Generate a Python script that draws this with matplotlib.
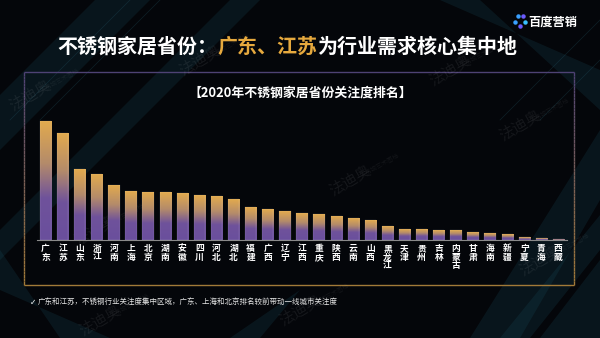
import numpy as np
import matplotlib
matplotlib.use("Agg")
import matplotlib.pyplot as plt
from matplotlib.colors import LinearSegmentedColormap, to_rgb
from matplotlib.collections import LineCollection
from matplotlib.patches import Polygon

plt.rcParams['font.family'] = ['Noto Sans CJK SC', 'DejaVu Sans']

# ---- data (relative attention index) ----
provinces = ["广东", "江苏", "山东", "浙江", "河南", "上海", "北京", "湖南", "安徽", "四川",
             "河北", "湖北", "福建", "广西", "辽宁", "江西", "重庆", "陕西", "云南", "山西",
             "黑龙江", "天津", "贵州", "吉林", "内蒙古", "甘肃", "海南", "新疆", "宁夏", "青海", "西藏"]
attention = [119, 107, 71, 66, 55, 49, 48, 48, 47, 45,
             44, 41, 33, 31, 29, 27, 26, 24, 22, 20,
             14, 11, 11, 10, 10, 8, 7, 6, 3, 2, 0.7]

title_white1 = "不锈钢家居省份："
title_gold = "广东、江苏"
title_white2 = "为行业需求核心集中地"
subtitle = "【2020年不锈钢家居省份关注度排名】"
note = "广东和江苏，不锈钢行业关注度集中区域，广东、上海和北京排名较前带动一线城市关注度"

W, H = 600, 338
fig = plt.figure(figsize=(W / 100, H / 100), dpi=100)
fig.patch.set_facecolor("#04060a")

# background layer in pixel coordinates
bg = fig.add_axes([0, 0, 1, 1])
bg.set_xlim(0, W)
bg.set_ylim(H, 0)
bg.axis("off")
bg.set_facecolor("#04060a")

# light streaks
streaks = [
    [(0, 95), (0, 150), (150, 0), (95, 0)],
    [(0, 230), (0, 260), (260, 0), (230, 0)],
    [(470, 338), (520, 338), (600, 200), (600, 130)],
    [(540, 338), (600, 338), (600, 260)],
    [(500, 338), (530, 338), (600, 250), (600, 215)],
    [(440, 0), (480, 0), (600, 110), (600, 70)],
    [(60, 338), (110, 338), (0, 290), (0, 250)],
    [(230, 338), (260, 338), (300, 290)],
]
for pts in streaks:
    bg.add_patch(Polygon(pts, closed=True, facecolor="#1b5566", edgecolor="none", alpha=0.2))
for x0 in [10, 40, 500, 540]:
    bg.plot([x0, x0 + 120], [120, 0], color="#2a6f80", lw=0.5, alpha=0.25)

# faint watermarks
for (wx, wy) in [(30, 95), (200, 60), (450, 70), (95, 230), (350, 180), (540, 260), (300, 310), (100, 320), (520, 125)]:
    bg.text(wx, wy, "法迪奥", color="white", alpha=0.07, fontsize=11, rotation=30,
            ha="center", va="center")
    bg.text(wx + 30, wy - 14, "不锈钢艺术图档", color="white", alpha=0.06, fontsize=4.5,
            rotation=30, ha="center", va="center")

# title, em-based placement (full-width glyphs)
fs_title = 14.4
em = fs_title * 100 / 72
x0 = 57
ty = 46
bg.text(x0, ty, title_white1, color="white", fontsize=fs_title, fontweight="bold", va="center")
bg.text(x0 + em * len(title_white1), ty, title_gold, color="#e6a93e", fontsize=fs_title,
        fontweight="bold", va="center")
bg.text(x0 + em * (len(title_white1) + len(title_gold)), ty, title_white2, color="white",
        fontsize=fs_title, fontweight="bold", va="center")

# logo
for (dx, dy, c) in [(518, 16, "#3aa0ff"), (523, 16, "#6d5cff"), (515, 22, "#3aa0ff"),
                    (520, 26, "#6d5cff"), (525, 22, "#3ac0ff")]:
    bg.plot(dx, dy, "o", ms=2.2, color=c)
bg.text(528, 22, "百度营销", color="white", fontsize=8.8, fontweight="bold", va="center")

# framed box with purple -> gold border
bx0, bx1, by0, by1 = 24, 574, 72, 285
top_c = np.array(to_rgb("#4e4274"))
bot_c = np.array(to_rgb("#a27a38"))
n = 60
ys = np.linspace(by0, by1, n + 1)
segs, cols = [], []
for i in range(n):
    t = (i + 0.5) / n
    c = top_c * (1 - t) + bot_c * t
    segs += [[(bx0, ys[i]), (bx0, ys[i + 1])], [(bx1, ys[i]), (bx1, ys[i + 1])]]
    cols += [c, c]
segs += [[(bx0, by0), (bx1, by0)], [(bx0, by1), (bx1, by1)]]
cols += [top_c, bot_c]
bg.add_collection(LineCollection(segs, colors=cols, linewidths=1.0))

bg.text(300, 93, subtitle, color="white", fontsize=9.3, fontweight="bold",
        ha="center", va="center")

# bullet note
bg.text(30, 302, "✓", color="white", fontsize=5.5, va="center", family=["DejaVu Sans"])
bg.text(38, 302, note, color="#e6e6e6", fontsize=5.4, va="center")

# ---- bar chart ----
ax_left, ax_right, ax_bot, ax_top = 37, 567, 240, 120
ax = fig.add_axes([ax_left / W, (H - ax_bot) / H, (ax_right - ax_left) / W, (ax_bot - ax_top) / H])
ax.set_facecolor("none")
x = np.arange(len(provinces))
bw = 0.66

cmap = LinearSegmentedColormap.from_list(
    "gp", [(0.0, "#6a4f9d"), (0.35, "#6f529b"), (0.65, "#b48b6a"), (1.0, "#e2aa4e")])
grad = np.linspace(0, 1, 128).reshape(-1, 1)
for xi, v in zip(x, attention):
    ax.imshow(grad, cmap=cmap, origin="lower", aspect="auto",
              extent=[xi - bw / 2, xi + bw / 2, 0, v], zorder=2)
ax.bar(x, attention, width=bw, facecolor="none", edgecolor="#ffffff", linewidth=0.3,
       alpha=0.25, zorder=3)

ax.set_xlim(-0.5, len(provinces) - 0.5)
ax.set_ylim(0, 120)
for s in ["top", "right", "left"]:
    ax.spines[s].set_visible(False)
ax.spines["bottom"].set_color("#8a8a8a")
ax.spines["bottom"].set_linewidth(0.8)
ax.set_yticks([])
ax.set_xticks(x)
ax.set_xticklabels(["\n".join(p) for p in provinces], color="white", fontsize=6.3,
                   fontweight="bold", linespacing=0.95, va="top")
ax.tick_params(axis="x", length=0, pad=3)

fig.savefig("out.png", dpi=100, facecolor=fig.get_facecolor())
